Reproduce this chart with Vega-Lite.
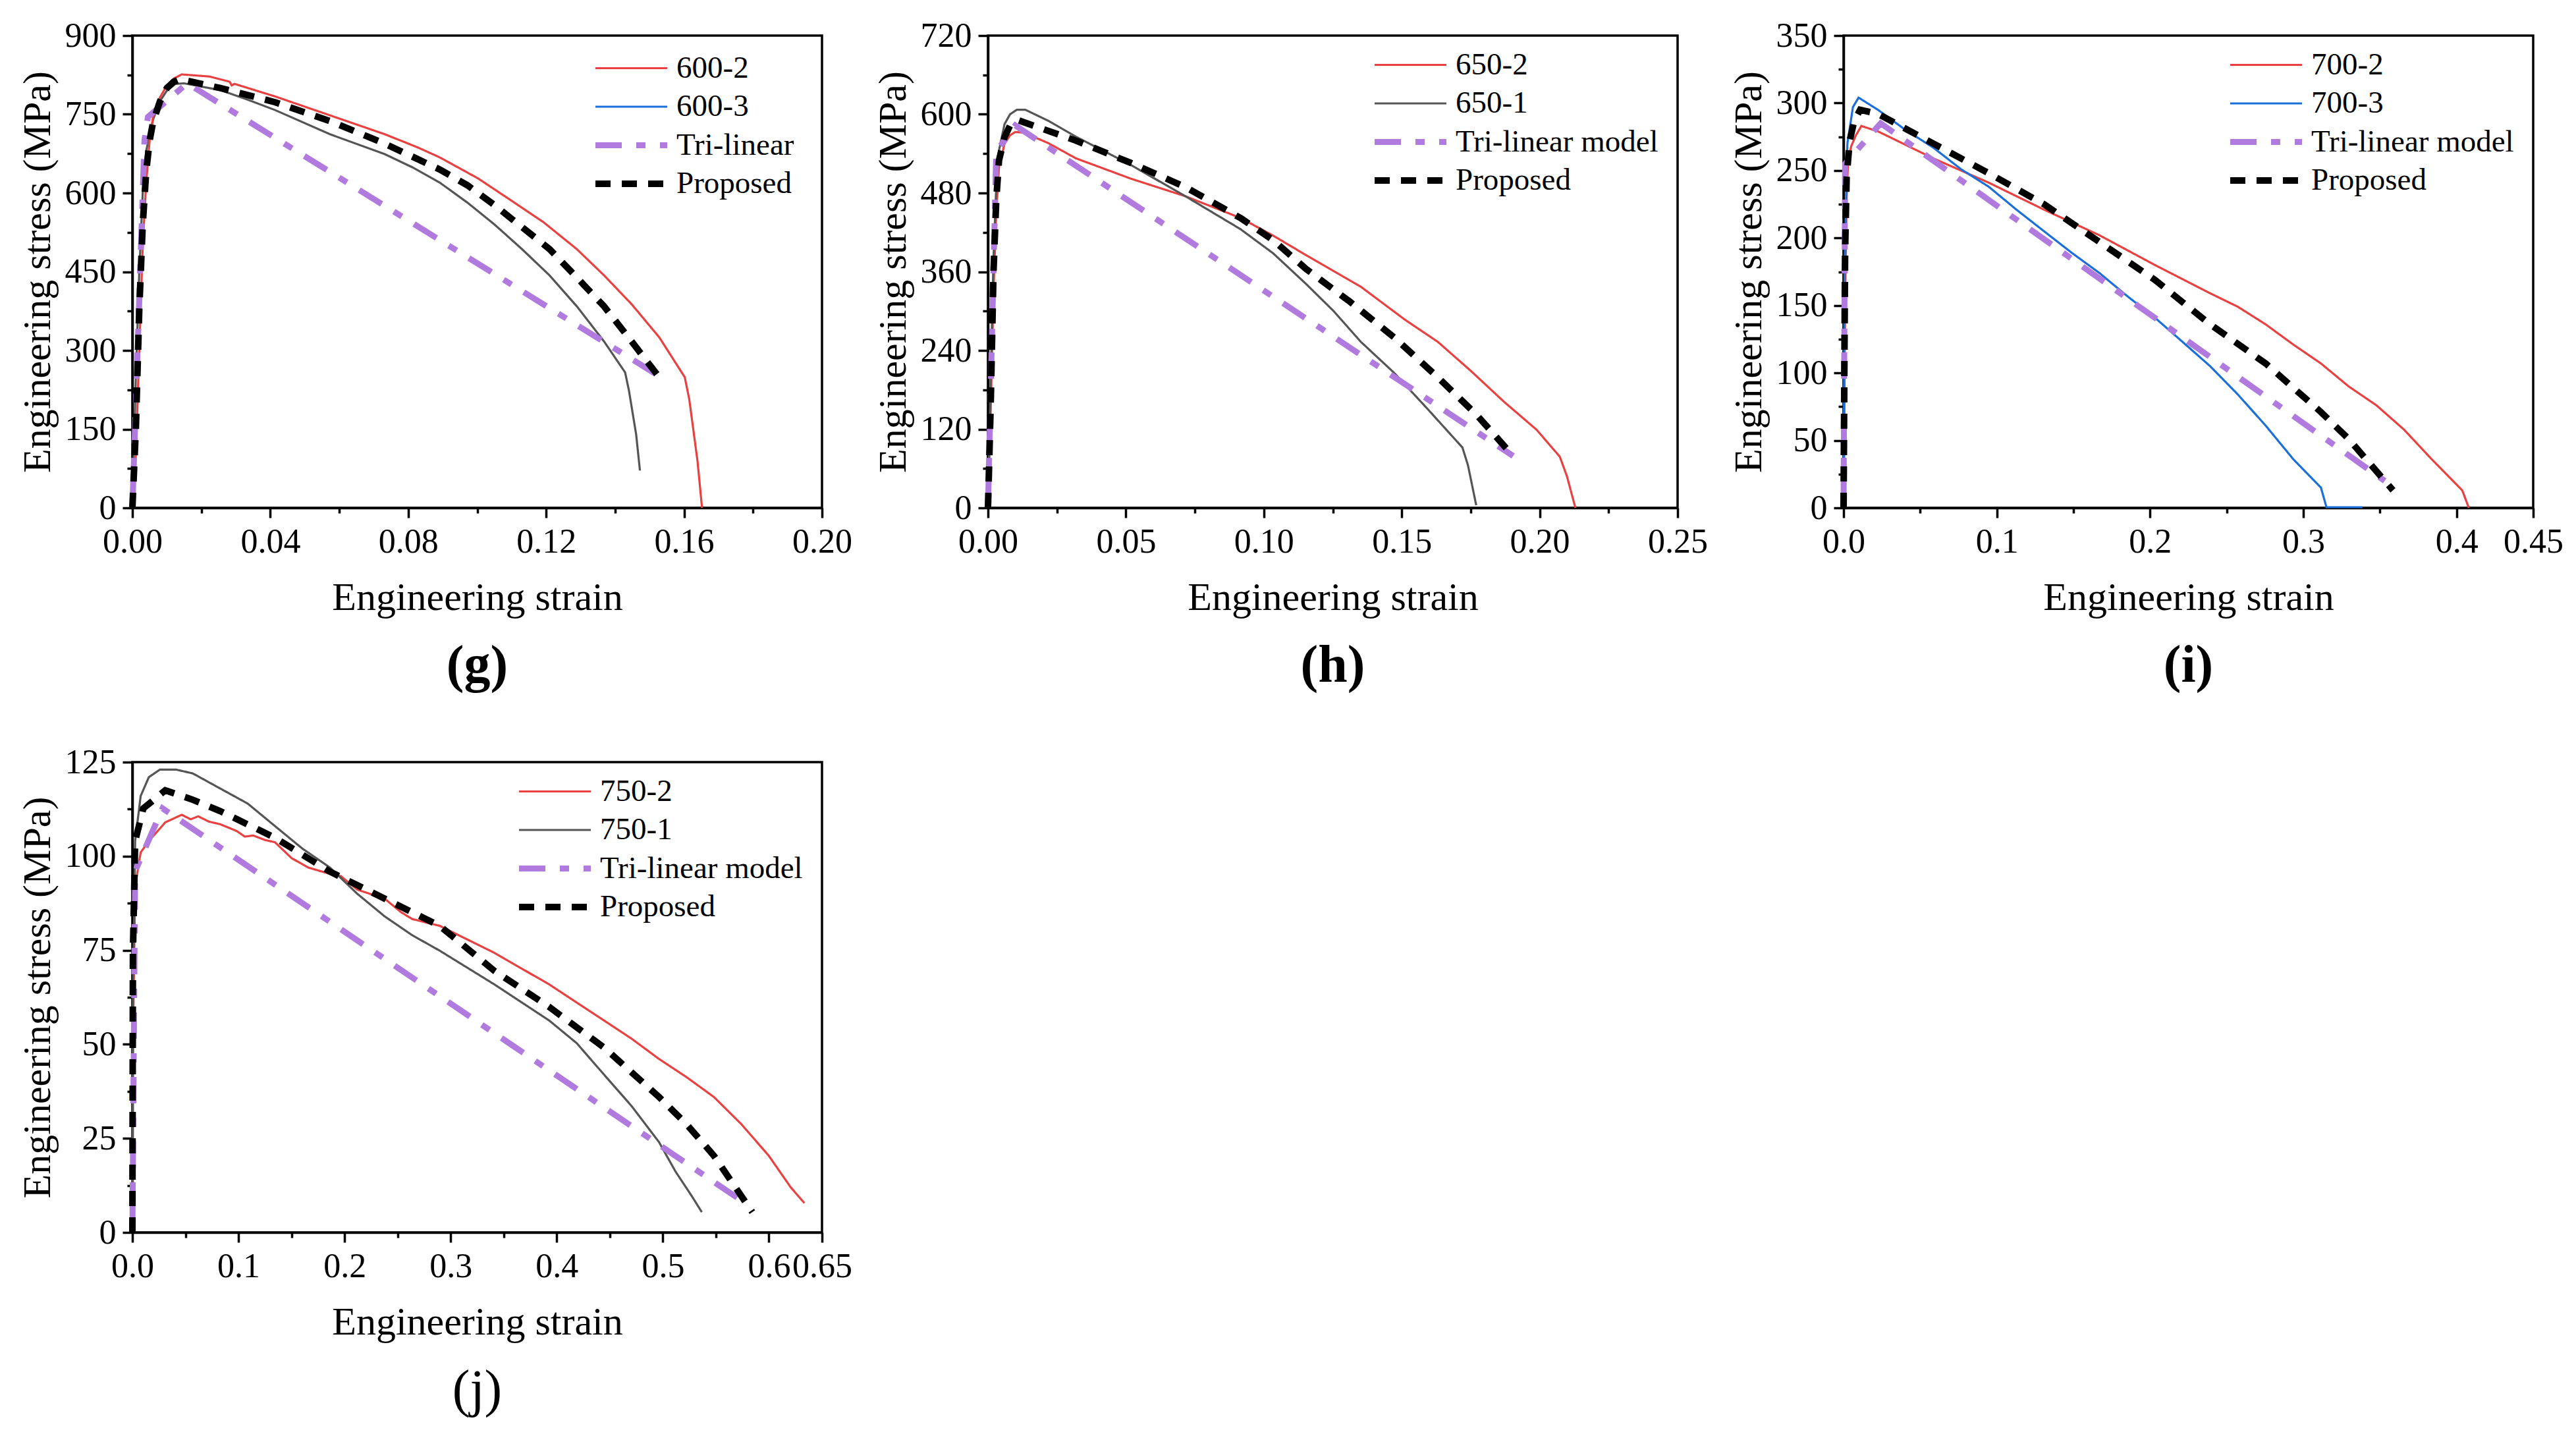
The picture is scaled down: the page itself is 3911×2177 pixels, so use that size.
{
  "$schema": "https://vega.github.io/schema/vega-lite/v6.json",
  "background": "white",
  "padding": {"left": 25, "top": 26, "right": 10, "bottom": 10},
  "autosize": {"type": "pad"},
  "spacing": 76,
  "resolve": {
    "scale": {"color": "independent", "strokeDash": "independent", "strokeWidth": "independent"},
    "legend": {"color": "independent", "strokeDash": "independent", "strokeWidth": "independent"}
  },
  "vconcat": [
    {
      "spacing": 28,
      "resolve": {
        "scale": {"color": "independent", "strokeDash": "independent", "strokeWidth": "independent"},
        "legend": {"color": "independent", "strokeDash": "independent", "strokeWidth": "independent"}
      },
      "hconcat": [
        {
          "width": 1047,
          "height": 717,
          "title": {"text": "(g)", "fontWeight": "bold"},
          "data": {
            "values": [
              {"s": "600-2", "x": 0, "y": 0}, {"s": "600-2", "x": 0.001, "y": 100}, {"s": "600-2", "x": 0.002, "y": 300},
              {"s": "600-2", "x": 0.003, "y": 500}, {"s": "600-2", "x": 0.004, "y": 620}, {"s": "600-2", "x": 0.005, "y": 700},
              {"s": "600-2", "x": 0.006, "y": 745}, {"s": "600-2", "x": 0.008, "y": 782}, {"s": "600-2", "x": 0.010, "y": 805},
              {"s": "600-2", "x": 0.012, "y": 818}, {"s": "600-2", "x": 0.0143, "y": 826}, {"s": "600-2", "x": 0.0223, "y": 822},
              {"s": "600-2", "x": 0.0282, "y": 812}, {"s": "600-2", "x": 0.0288, "y": 805}, {"s": "600-2", "x": 0.0296, "y": 808},
              {"s": "600-2", "x": 0.0414, "y": 784}, {"s": "600-2", "x": 0.0573, "y": 748},
              {"s": "600-2", "x": 0.0732, "y": 712}, {"s": "600-2", "x": 0.0827, "y": 687}, {"s": "600-2", "x": 0.0891, "y": 668},
              {"s": "600-2", "x": 0.1002, "y": 628}, {"s": "600-2", "x": 0.1098, "y": 586}, {"s": "600-2", "x": 0.1193, "y": 544},
              {"s": "600-2", "x": 0.1289, "y": 493}, {"s": "600-2", "x": 0.1368, "y": 443}, {"s": "600-2", "x": 0.1448, "y": 388},
              {"s": "600-2", "x": 0.1528, "y": 325}, {"s": "600-2", "x": 0.1602, "y": 249}, {"s": "600-2", "x": 0.1615, "y": 207},
              {"s": "600-2", "x": 0.1639, "y": 89}, {"s": "600-2", "x": 0.1652, "y": 0},
              {"s": "600-3", "x": 0, "y": 0}, {"s": "600-3", "x": 0.001, "y": 250}, {"s": "600-3", "x": 0.002, "y": 450},
              {"s": "600-3", "x": 0.003, "y": 600}, {"s": "600-3", "x": 0.004, "y": 680}, {"s": "600-3", "x": 0.006, "y": 740},
              {"s": "600-3", "x": 0.008, "y": 775}, {"s": "600-3", "x": 0.010, "y": 795}, {"s": "600-3", "x": 0.0125, "y": 808},
              {"s": "600-3", "x": 0.015, "y": 809}, {"s": "600-3", "x": 0.0255, "y": 796}, {"s": "600-3", "x": 0.0334, "y": 778},
              {"s": "600-3", "x": 0.0414, "y": 758}, {"s": "600-3", "x": 0.0573, "y": 712}, {"s": "600-3", "x": 0.0732, "y": 674},
              {"s": "600-3", "x": 0.0812, "y": 649}, {"s": "600-3", "x": 0.0891, "y": 620}, {"s": "600-3", "x": 0.0971, "y": 582},
              {"s": "600-3", "x": 0.105, "y": 540}, {"s": "600-3", "x": 0.113, "y": 493}, {"s": "600-3", "x": 0.121, "y": 443},
              {"s": "600-3", "x": 0.1289, "y": 384}, {"s": "600-3", "x": 0.1368, "y": 317}, {"s": "600-3", "x": 0.1429, "y": 258},
              {"s": "600-3", "x": 0.144, "y": 224}, {"s": "600-3", "x": 0.1461, "y": 140}, {"s": "600-3", "x": 0.1472, "y": 71},
              {"s": "Tri-linear", "x": 0, "y": 0}, {"s": "Tri-linear", "x": 0.0035, "y": 700}, {"s": "Tri-linear", "x": 0.0045, "y": 745},
              {"s": "Tri-linear", "x": 0.0159, "y": 809}, {"s": "Tri-linear", "x": 0.1523, "y": 253},
              {"s": "Proposed", "x": 0, "y": 0}, {"s": "Proposed", "x": 0.001, "y": 150}, {"s": "Proposed", "x": 0.002, "y": 380},
              {"s": "Proposed", "x": 0.003, "y": 540}, {"s": "Proposed", "x": 0.004, "y": 640}, {"s": "Proposed", "x": 0.005, "y": 700},
              {"s": "Proposed", "x": 0.006, "y": 735}, {"s": "Proposed", "x": 0.008, "y": 775}, {"s": "Proposed", "x": 0.010, "y": 800},
              {"s": "Proposed", "x": 0.012, "y": 812}, {"s": "Proposed", "x": 0.0138, "y": 817}, {"s": "Proposed", "x": 0.0255, "y": 800},
              {"s": "Proposed", "x": 0.0414, "y": 773}, {"s": "Proposed", "x": 0.0573, "y": 737}, {"s": "Proposed", "x": 0.0732, "y": 694},
              {"s": "Proposed", "x": 0.0891, "y": 645}, {"s": "Proposed", "x": 0.0971, "y": 615}, {"s": "Proposed", "x": 0.105, "y": 577},
              {"s": "Proposed", "x": 0.113, "y": 535}, {"s": "Proposed", "x": 0.121, "y": 493}, {"s": "Proposed", "x": 0.1289, "y": 439},
              {"s": "Proposed", "x": 0.1368, "y": 384}, {"s": "Proposed", "x": 0.1448, "y": 317}, {"s": "Proposed", "x": 0.1523, "y": 253}
            ]
          },
          "encoding": {
            "x": {
              "field": "x", "type": "quantitative", "title": "Engineering strain",
              "scale": {"domain": [0, 0.2], "nice": false, "zero": false},
              "axis": {
                "values": [0, 0.02, 0.04, 0.06, 0.08, 0.1, 0.12, 0.14, 0.16, 0.18, 0.2],
                "labelExpr": "abs(datum.value/0.04 - round(datum.value/0.04)) < 0.001 ? format(datum.value, '.2f') : ''",
                "tickSize": {"condition": {"test": "abs(datum.value/0.04 - round(datum.value/0.04)) < 0.001", "value": 15}, "value": 8}
              }
            },
            "y": {
              "field": "y", "type": "quantitative", "title": "Engineering stress (MPa)",
              "scale": {"domain": [0, 900], "nice": false},
              "axis": {
                "values": [0, 75, 150, 225, 300, 375, 450, 525, 600, 675, 750, 825, 900],
                "labelExpr": "datum.value % 150 == 0 ? format(datum.value, 'd') : ''",
                "tickSize": {"condition": {"test": "datum.value % 150 == 0", "value": 15}, "value": 8}
              }
            }
          },
          "layer": [
            {
              "transform": [{"filter": "datum.s == '600-3'"}],
              "mark": {"type": "line", "color": "#555555", "strokeWidth": 3.2}
            },
            {
              "transform": [{"filter": "datum.s != '600-3'"}],
              "mark": {"type": "line"},
              "encoding": {
                "color": {"field": "s", "type": "nominal", "scale": {"type": "ordinal", "domain": ["600-2", "600-3", "Tri-linear", "Proposed"], "range": ["#E94141", "#1B6FD8", "#B07ADE", "#000000"]}, "legend": {"title": null, "legendX": 734, "legendY": 26}},
                "strokeDash": {"field": "s", "type": "nominal", "scale": {"type": "ordinal", "domain": ["600-2", "600-3", "Tri-linear", "Proposed"], "range": [[1, 0], [1, 0], [40, 22, 14, 22], [23, 17]]}, "legend": {"title": null, "legendX": 734, "legendY": 26}},
                "strokeWidth": {"field": "s", "type": "nominal", "scale": {"type": "ordinal", "domain": ["600-2", "600-3", "Tri-linear", "Proposed"], "range": [3.2, 3.2, 9, 10]}, "legend": {"title": null, "legendX": 734, "legendY": 26}}
              }
            }
          ]
        },
        {
          "spacing": 28,
          "resolve": {
            "scale": {"color": "independent", "strokeDash": "independent", "strokeWidth": "independent"},
            "legend": {"color": "independent", "strokeDash": "independent", "strokeWidth": "independent"}
          },
          "hconcat": [
            {
              "width": 1047,
              "height": 717,
              "title": {"text": "(h)", "fontWeight": "bold"},
              "data": {
                "values": [
                  {"s": "650-2", "x": 0, "y": 0}, {"s": "650-2", "x": 0.001, "y": 150}, {"s": "650-2", "x": 0.002, "y": 330},
                  {"s": "650-2", "x": 0.003, "y": 450}, {"s": "650-2", "x": 0.004, "y": 520}, {"s": "650-2", "x": 0.006, "y": 555},
                  {"s": "650-2", "x": 0.008, "y": 568}, {"s": "650-2", "x": 0.0099, "y": 573}, {"s": "650-2", "x": 0.013, "y": 572},
                  {"s": "650-2", "x": 0.0219, "y": 556}, {"s": "650-2", "x": 0.0318, "y": 533}, {"s": "650-2", "x": 0.0517, "y": 502},
                  {"s": "650-2", "x": 0.0716, "y": 475}, {"s": "650-2", "x": 0.0915, "y": 442}, {"s": "650-2", "x": 0.1034, "y": 415},
                  {"s": "650-2", "x": 0.1154, "y": 385}, {"s": "650-2", "x": 0.1253, "y": 361}, {"s": "650-2", "x": 0.1352, "y": 337},
                  {"s": "650-2", "x": 0.1511, "y": 287}, {"s": "650-2", "x": 0.1631, "y": 253}, {"s": "650-2", "x": 0.175, "y": 209},
                  {"s": "650-2", "x": 0.187, "y": 162}, {"s": "650-2", "x": 0.1989, "y": 119}, {"s": "650-2", "x": 0.2073, "y": 78},
                  {"s": "650-2", "x": 0.2099, "y": 48}, {"s": "650-2", "x": 0.2127, "y": 4}, {"s": "650-2", "x": 0.213, "y": 0},
                  {"s": "650-1", "x": 0, "y": 0}, {"s": "650-1", "x": 0.001, "y": 200}, {"s": "650-1", "x": 0.002, "y": 380},
                  {"s": "650-1", "x": 0.003, "y": 490}, {"s": "650-1", "x": 0.004, "y": 545}, {"s": "650-1", "x": 0.006, "y": 585},
                  {"s": "650-1", "x": 0.008, "y": 600}, {"s": "650-1", "x": 0.0105, "y": 607}, {"s": "650-1", "x": 0.0135, "y": 607},
                  {"s": "650-1", "x": 0.0219, "y": 590}, {"s": "650-1", "x": 0.0318, "y": 566}, {"s": "650-1", "x": 0.0517, "y": 523},
                  {"s": "650-1", "x": 0.0716, "y": 475}, {"s": "650-1", "x": 0.0915, "y": 425}, {"s": "650-1", "x": 0.1034, "y": 388},
                  {"s": "650-1", "x": 0.1154, "y": 341}, {"s": "650-1", "x": 0.1253, "y": 300}, {"s": "650-1", "x": 0.1352, "y": 253},
                  {"s": "650-1", "x": 0.1472, "y": 206}, {"s": "650-1", "x": 0.1591, "y": 152}, {"s": "650-1", "x": 0.172, "y": 92},
                  {"s": "650-1", "x": 0.174, "y": 65}, {"s": "650-1", "x": 0.177, "y": 4},
                  {"s": "Tri-linear model", "x": 0, "y": 0}, {"s": "Tri-linear model", "x": 0.003, "y": 543},
                  {"s": "Tri-linear model", "x": 0.0099, "y": 583}, {"s": "Tri-linear model", "x": 0.1904, "y": 79},
                  {"s": "Proposed", "x": 0, "y": 0}, {"s": "Proposed", "x": 0.001, "y": 160}, {"s": "Proposed", "x": 0.002, "y": 360},
                  {"s": "Proposed", "x": 0.003, "y": 470}, {"s": "Proposed", "x": 0.004, "y": 530}, {"s": "Proposed", "x": 0.006, "y": 565},
                  {"s": "Proposed", "x": 0.008, "y": 583}, {"s": "Proposed", "x": 0.0109, "y": 591}, {"s": "Proposed", "x": 0.0318, "y": 560},
                  {"s": "Proposed", "x": 0.0517, "y": 526}, {"s": "Proposed", "x": 0.0716, "y": 489}, {"s": "Proposed", "x": 0.0915, "y": 442},
                  {"s": "Proposed", "x": 0.1034, "y": 408}, {"s": "Proposed", "x": 0.1154, "y": 364}, {"s": "Proposed", "x": 0.1313, "y": 314},
                  {"s": "Proposed", "x": 0.1472, "y": 260}, {"s": "Proposed", "x": 0.1631, "y": 199}, {"s": "Proposed", "x": 0.1771, "y": 142},
                  {"s": "Proposed", "x": 0.1904, "y": 79}
                ]
              },
              "mark": {"type": "line"},
              "encoding": {
                "x": {
                  "field": "x", "type": "quantitative", "title": "Engineering strain",
                  "scale": {"domain": [0, 0.25], "nice": false, "zero": false},
                  "axis": {
                    "values": [0, 0.025, 0.05, 0.075, 0.1, 0.125, 0.15, 0.175, 0.2, 0.225, 0.25],
                    "labelExpr": "abs(datum.value/0.05 - round(datum.value/0.05)) < 0.001 ? format(datum.value, '.2f') : ''",
                    "tickSize": {"condition": {"test": "abs(datum.value/0.05 - round(datum.value/0.05)) < 0.001", "value": 15}, "value": 8}
                  }
                },
                "y": {
                  "field": "y", "type": "quantitative", "title": "Engineering stress (MPa)",
                  "scale": {"domain": [0, 720], "nice": false},
                  "axis": {
                    "values": [0, 60, 120, 180, 240, 300, 360, 420, 480, 540, 600, 660, 720],
                    "labelExpr": "datum.value % 120 == 0 ? format(datum.value, 'd') : ''",
                    "tickSize": {"condition": {"test": "datum.value % 120 == 0", "value": 15}, "value": 8}
                  }
                },
                "color": {"field": "s", "type": "nominal", "scale": {"type": "ordinal", "domain": ["650-2", "650-1", "Tri-linear model", "Proposed"], "range": ["#E94141", "#555555", "#B07ADE", "#000000"]}, "legend": {"title": null, "legendX": 618, "legendY": 21}},
                "strokeDash": {"field": "s", "type": "nominal", "scale": {"type": "ordinal", "domain": ["650-2", "650-1", "Tri-linear model", "Proposed"], "range": [[1, 0], [1, 0], [40, 22, 14, 22], [23, 17]]}, "legend": {"title": null, "legendX": 618, "legendY": 21}},
                "strokeWidth": {"field": "s", "type": "nominal", "scale": {"type": "ordinal", "domain": ["650-2", "650-1", "Tri-linear model", "Proposed"], "range": [3.2, 3.2, 9, 10]}, "legend": {"title": null, "legendX": 618, "legendY": 21}}
              }
            },
            {
              "width": 1047,
              "height": 717,
              "title": {"text": "(i)", "fontWeight": "bold"},
              "data": {
                "values": [
                  {"s": "700-2", "x": 0, "y": 0}, {"s": "700-2", "x": 0.001, "y": 150}, {"s": "700-2", "x": 0.002, "y": 230},
                  {"s": "700-2", "x": 0.003, "y": 258}, {"s": "700-2", "x": 0.005, "y": 268}, {"s": "700-2", "x": 0.008, "y": 276},
                  {"s": "700-2", "x": 0.0116, "y": 283}, {"s": "700-2", "x": 0.0224, "y": 279}, {"s": "700-2", "x": 0.0405, "y": 269},
                  {"s": "700-2", "x": 0.0585, "y": 259}, {"s": "700-2", "x": 0.0947, "y": 241}, {"s": "700-2", "x": 0.1308, "y": 221},
                  {"s": "700-2", "x": 0.167, "y": 202}, {"s": "700-2", "x": 0.2031, "y": 180}, {"s": "700-2", "x": 0.2392, "y": 159},
                  {"s": "700-2", "x": 0.2573, "y": 149}, {"s": "700-2", "x": 0.2754, "y": 136}, {"s": "700-2", "x": 0.2935, "y": 121},
                  {"s": "700-2", "x": 0.3115, "y": 107}, {"s": "700-2", "x": 0.3296, "y": 90}, {"s": "700-2", "x": 0.3477, "y": 76},
                  {"s": "700-2", "x": 0.3657, "y": 58}, {"s": "700-2", "x": 0.3838, "y": 36}, {"s": "700-2", "x": 0.4037, "y": 13},
                  {"s": "700-2", "x": 0.408, "y": 0},
                  {"s": "700-3", "x": 0, "y": 0}, {"s": "700-3", "x": 0.0007, "y": 179}, {"s": "700-3", "x": 0.0025, "y": 270},
                  {"s": "700-3", "x": 0.0061, "y": 297}, {"s": "700-3", "x": 0.0098, "y": 304}, {"s": "700-3", "x": 0.0224, "y": 295},
                  {"s": "700-3", "x": 0.0405, "y": 280}, {"s": "700-3", "x": 0.0585, "y": 267}, {"s": "700-3", "x": 0.0766, "y": 251},
                  {"s": "700-3", "x": 0.0947, "y": 238}, {"s": "700-3", "x": 0.1128, "y": 221}, {"s": "700-3", "x": 0.1308, "y": 205},
                  {"s": "700-3", "x": 0.1489, "y": 189}, {"s": "700-3", "x": 0.167, "y": 174}, {"s": "700-3", "x": 0.185, "y": 157},
                  {"s": "700-3", "x": 0.2031, "y": 141}, {"s": "700-3", "x": 0.2212, "y": 123}, {"s": "700-3", "x": 0.2392, "y": 105},
                  {"s": "700-3", "x": 0.2573, "y": 84}, {"s": "700-3", "x": 0.2754, "y": 61}, {"s": "700-3", "x": 0.2935, "y": 36},
                  {"s": "700-3", "x": 0.3115, "y": 15}, {"s": "700-3", "x": 0.3151, "y": 0.5}, {"s": "700-3", "x": 0.3386, "y": 0.5},
                  {"s": "Tri-linear model", "x": 0, "y": 0}, {"s": "Tri-linear model", "x": 0.001, "y": 255},
                  {"s": "Tri-linear model", "x": 0.0242, "y": 285}, {"s": "Tri-linear model", "x": 0.3531, "y": 20},
                  {"s": "Proposed", "x": 0, "y": 0}, {"s": "Proposed", "x": 0.0005, "y": 100}, {"s": "Proposed", "x": 0.001, "y": 190},
                  {"s": "Proposed", "x": 0.002, "y": 245}, {"s": "Proposed", "x": 0.004, "y": 272}, {"s": "Proposed", "x": 0.007, "y": 287},
                  {"s": "Proposed", "x": 0.0108, "y": 295}, {"s": "Proposed", "x": 0.0224, "y": 292}, {"s": "Proposed", "x": 0.0585, "y": 270},
                  {"s": "Proposed", "x": 0.0947, "y": 248}, {"s": "Proposed", "x": 0.1308, "y": 225}, {"s": "Proposed", "x": 0.167, "y": 197},
                  {"s": "Proposed", "x": 0.2031, "y": 169}, {"s": "Proposed", "x": 0.2392, "y": 136}, {"s": "Proposed", "x": 0.2754, "y": 107},
                  {"s": "Proposed", "x": 0.3115, "y": 71}, {"s": "Proposed", "x": 0.3296, "y": 51}, {"s": "Proposed", "x": 0.3585, "y": 13}
                ]
              },
              "mark": {"type": "line"},
              "encoding": {
                "x": {
                  "field": "x", "type": "quantitative", "title": "Engineering strain",
                  "scale": {"domain": [0, 0.45], "nice": false, "zero": false},
                  "axis": {
                    "values": [0, 0.05, 0.1, 0.15, 0.2, 0.25, 0.3, 0.35, 0.4, 0.45],
                    "labelExpr": "datum.value > 0.44 ? '0.45' : (abs(datum.value*10 - round(datum.value*10)) < 0.001 ? format(datum.value, '.1f') : '')",
                    "tickSize": {"condition": {"test": "datum.value > 0.44 || abs(datum.value*10 - round(datum.value*10)) < 0.001", "value": 15}, "value": 8}
                  }
                },
                "y": {
                  "field": "y", "type": "quantitative", "title": "Engineering stress (MPa)",
                  "scale": {"domain": [0, 350], "nice": false},
                  "axis": {
                    "values": [0, 25, 50, 75, 100, 125, 150, 175, 200, 225, 250, 275, 300, 325, 350],
                    "labelExpr": "datum.value % 50 == 0 ? format(datum.value, 'd') : ''",
                    "tickSize": {"condition": {"test": "datum.value % 50 == 0", "value": 15}, "value": 8}
                  }
                },
                "color": {"field": "s", "type": "nominal", "scale": {"type": "ordinal", "domain": ["700-2", "700-3", "Tri-linear model", "Proposed"], "range": ["#E94141", "#1B6FD8", "#B07ADE", "#000000"]}, "legend": {"title": null, "legendX": 618, "legendY": 21}},
                "strokeDash": {"field": "s", "type": "nominal", "scale": {"type": "ordinal", "domain": ["700-2", "700-3", "Tri-linear model", "Proposed"], "range": [[1, 0], [1, 0], [40, 22, 14, 22], [23, 17]]}, "legend": {"title": null, "legendX": 618, "legendY": 21}},
                "strokeWidth": {"field": "s", "type": "nominal", "scale": {"type": "ordinal", "domain": ["700-2", "700-3", "Tri-linear model", "Proposed"], "range": [3.2, 3.2, 9, 10]}, "legend": {"title": null, "legendX": 618, "legendY": 21}}
              }
            }
          ]
        }
      ]
    },
    {
      "hconcat": [
        {
          "width": 1047,
          "height": 714,
          "title": {"text": "(j)", "fontWeight": "normal"},
          "data": {
            "values": [
              {"s": "750-2", "x": 0, "y": 0}, {"s": "750-2", "x": 0.0005, "y": 50}, {"s": "750-2", "x": 0.0026, "y": 92},
              {"s": "750-2", "x": 0.0078, "y": 101}, {"s": "750-2", "x": 0.0155, "y": 104}, {"s": "750-2", "x": 0.031, "y": 109},
              {"s": "750-2", "x": 0.0465, "y": 111}, {"s": "750-2", "x": 0.055, "y": 109.8}, {"s": "750-2", "x": 0.062, "y": 110.6},
              {"s": "750-2", "x": 0.072, "y": 109.2}, {"s": "750-2", "x": 0.0827, "y": 108.5},
              {"s": "750-2", "x": 0.0982, "y": 106.7}, {"s": "750-2", "x": 0.106, "y": 105.2}, {"s": "750-2", "x": 0.1138, "y": 105.5},
              {"s": "750-2", "x": 0.125, "y": 104.3}, {"s": "750-2", "x": 0.1344, "y": 103.7},
              {"s": "750-2", "x": 0.15, "y": 99.5}, {"s": "750-2", "x": 0.1655, "y": 97}, {"s": "750-2", "x": 0.1861, "y": 95.3},
              {"s": "750-2", "x": 0.1965, "y": 94.7}, {"s": "750-2", "x": 0.212, "y": 91.1}, {"s": "750-2", "x": 0.2378, "y": 88.7},
              {"s": "750-2", "x": 0.2533, "y": 85.1}, {"s": "750-2", "x": 0.2637, "y": 83.3}, {"s": "750-2", "x": 0.2896, "y": 81.5},
              {"s": "750-2", "x": 0.3154, "y": 77.9}, {"s": "750-2", "x": 0.3413, "y": 74.3}, {"s": "750-2", "x": 0.3671, "y": 70.1},
              {"s": "750-2", "x": 0.393, "y": 65.9}, {"s": "750-2", "x": 0.4188, "y": 61.1}, {"s": "750-2", "x": 0.4447, "y": 56.3},
              {"s": "750-2", "x": 0.4705, "y": 51.5}, {"s": "750-2", "x": 0.4964, "y": 46.1}, {"s": "750-2", "x": 0.5222, "y": 41.3},
              {"s": "750-2", "x": 0.5481, "y": 36}, {"s": "750-2", "x": 0.5739, "y": 28.8}, {"s": "750-2", "x": 0.5998, "y": 20.4},
              {"s": "750-2", "x": 0.6205, "y": 12}, {"s": "750-2", "x": 0.6334, "y": 7.8},
              {"s": "750-1", "x": 0, "y": 0}, {"s": "750-1", "x": 0.0005, "y": 60}, {"s": "750-1", "x": 0.0026, "y": 104},
              {"s": "750-1", "x": 0.0078, "y": 116}, {"s": "750-1", "x": 0.0155, "y": 121}, {"s": "750-1", "x": 0.0259, "y": 123},
              {"s": "750-1", "x": 0.0414, "y": 123}, {"s": "750-1", "x": 0.0569, "y": 122}, {"s": "750-1", "x": 0.0827, "y": 118},
              {"s": "750-1", "x": 0.1086, "y": 114}, {"s": "750-1", "x": 0.1344, "y": 108}, {"s": "750-1", "x": 0.1603, "y": 102},
              {"s": "750-1", "x": 0.1861, "y": 97}, {"s": "750-1", "x": 0.212, "y": 90}, {"s": "750-1", "x": 0.2378, "y": 84},
              {"s": "750-1", "x": 0.2637, "y": 79}, {"s": "750-1", "x": 0.2896, "y": 74.9}, {"s": "750-1", "x": 0.3413, "y": 65.9},
              {"s": "750-1", "x": 0.393, "y": 56.3}, {"s": "750-1", "x": 0.4188, "y": 50.3}, {"s": "750-1", "x": 0.4447, "y": 41.9},
              {"s": "750-1", "x": 0.4705, "y": 33.6}, {"s": "750-1", "x": 0.4964, "y": 24}, {"s": "750-1", "x": 0.5119, "y": 16.2},
              {"s": "750-1", "x": 0.5274, "y": 9.6}, {"s": "750-1", "x": 0.5367, "y": 5.4},
              {"s": "Tri-linear model", "x": 0, "y": 0}, {"s": "Tri-linear model", "x": 0.0026, "y": 96},
              {"s": "Tri-linear model", "x": 0.0284, "y": 112.7}, {"s": "Tri-linear model", "x": 0.5713, "y": 9},
              {"s": "Proposed", "x": 0, "y": 0}, {"s": "Proposed", "x": 0.0005, "y": 74}, {"s": "Proposed", "x": 0.0026, "y": 104},
              {"s": "Proposed", "x": 0.0103, "y": 112.7}, {"s": "Proposed", "x": 0.031, "y": 117.5}, {"s": "Proposed", "x": 0.0569, "y": 115},
              {"s": "Proposed", "x": 0.0827, "y": 112}, {"s": "Proposed", "x": 0.1344, "y": 104.9}, {"s": "Proposed", "x": 0.1861, "y": 95.9},
              {"s": "Proposed", "x": 0.2378, "y": 88.7}, {"s": "Proposed", "x": 0.2896, "y": 81.5}, {"s": "Proposed", "x": 0.3413, "y": 69.5},
              {"s": "Proposed", "x": 0.393, "y": 59.9}, {"s": "Proposed", "x": 0.4447, "y": 49.1}, {"s": "Proposed", "x": 0.4964, "y": 36},
              {"s": "Proposed", "x": 0.5222, "y": 28.8}, {"s": "Proposed", "x": 0.5481, "y": 20.4}, {"s": "Proposed", "x": 0.5843, "y": 5.4}
            ]
          },
          "mark": {"type": "line"},
          "encoding": {
            "x": {
              "field": "x", "type": "quantitative", "title": "Engineering strain",
              "scale": {"domain": [0, 0.65], "nice": false, "zero": false},
              "axis": {
                "values": [0, 0.05, 0.1, 0.15, 0.2, 0.25, 0.3, 0.35, 0.4, 0.45, 0.5, 0.55, 0.6, 0.65],
                "labelExpr": "datum.value > 0.64 ? '0.65' : (abs(datum.value*10 - round(datum.value*10)) < 0.001 ? format(datum.value, '.1f') : '')",
                "tickSize": {"condition": {"test": "datum.value > 0.64 || abs(datum.value*10 - round(datum.value*10)) < 0.001", "value": 15}, "value": 8}
              }
            },
            "y": {
              "field": "y", "type": "quantitative", "title": "Engineering stress (MPa)",
              "scale": {"domain": [0, 125], "nice": false},
              "axis": {
                "values": [0, 12.5, 25, 37.5, 50, 62.5, 75, 87.5, 100, 112.5, 125],
                "labelExpr": "datum.value % 25 == 0 ? format(datum.value, 'd') : ''",
                "tickSize": {"condition": {"test": "datum.value % 25 == 0", "value": 15}, "value": 8}
              }
            },
            "color": {"field": "s", "type": "nominal", "scale": {"type": "ordinal", "domain": ["750-2", "750-1", "Tri-linear model", "Proposed"], "range": ["#E94141", "#555555", "#B07ADE", "#000000"]}, "legend": {"title": null, "legendX": 618, "legendY": 21}},
            "strokeDash": {"field": "s", "type": "nominal", "scale": {"type": "ordinal", "domain": ["750-2", "750-1", "Tri-linear model", "Proposed"], "range": [[1, 0], [1, 0], [40, 22, 14, 22], [23, 17]]}, "legend": {"title": null, "legendX": 618, "legendY": 21}},
            "strokeWidth": {"field": "s", "type": "nominal", "scale": {"type": "ordinal", "domain": ["750-2", "750-1", "Tri-linear model", "Proposed"], "range": [3.2, 3.2, 9, 10]}, "legend": {"title": null, "legendX": 618, "legendY": 21}}
          }
        }
      ]
    }
  ],
  "config": {
    "font": "Liberation Serif",
    "view": {"stroke": "black", "strokeWidth": 3.5},
    "axis": {
      "grid": false,
      "domainColor": "black",
      "domainWidth": 3.5,
      "tickColor": "black",
      "tickWidth": 3.5,
      "labelColor": "black",
      "labelFontSize": 52,
      "labelFlush": false,
      "labelOverlap": false,
      "titleColor": "black",
      "titleFontSize": 60,
      "titleFontWeight": "normal"
    },
    "axisX": {"labelPadding": 11, "titlePadding": 30},
    "axisY": {"labelPadding": 10, "titlePadding": 10},
    "legend": {
      "orient": "none",
      "labelFontSize": 47,
      "labelColor": "black",
      "labelLimit": 0,
      "symbolType": "M-3,0H3",
      "symbolSize": 1320,
      "labelOffset": 45,
      "rowPadding": 10.5,
      "padding": 0
    },
    "title": {"orient": "bottom", "fontSize": 80, "offset": 35, "color": "black", "font": "Liberation Serif"}
  }
}
